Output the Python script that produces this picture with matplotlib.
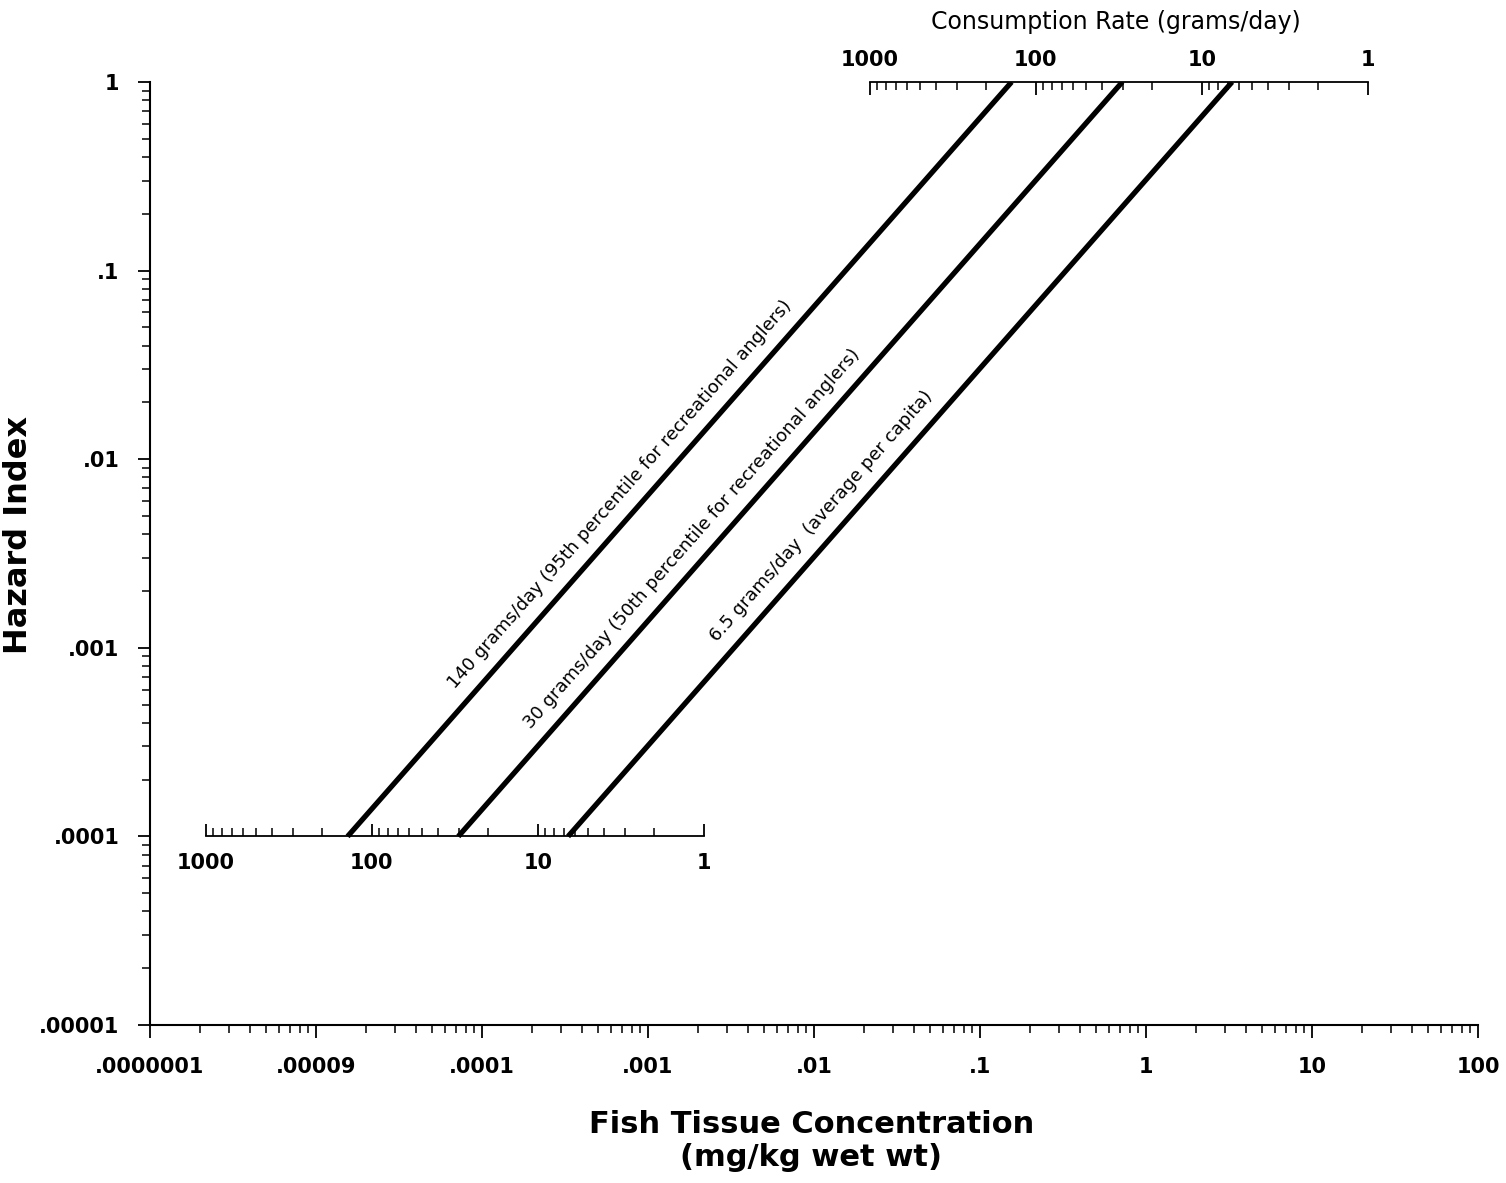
import numpy as np
import matplotlib
matplotlib.use("Agg")
import matplotlib.pyplot as plt
from matplotlib.ticker import NullFormatter, LogLocator

# ---------------- data ----------------
x_tick_values = [1e-6, 1e-5, 1e-4, 1e-3, 1e-2, 1e-1, 1, 10, 100]
x_tick_labels = [".0000001", ".00009", ".0001", ".001", ".01", ".1", "1", "10", "100"]
y_tick_values = [1e-5, 1e-4, 1e-3, 1e-2, 1e-1, 1]
y_tick_labels = [".00001", ".0001", ".001", ".01", ".1", "1"]

rates = [140, 30, 6.5]                       # grams/day
hazard_ends = [1e-4, 1.0]                    # hazard index at line ends
conc_140 = [1.55e-5, 0.155]                  # mg/kg at the two ends
conc_30 = [7.2e-5, 0.72]
conc_6_5 = [3.3e-4, 3.3]
line_labels = [
    "140 grams/day (95th percentile for recreational anglers)",
    "30 grams/day (50th percentile for recreational anglers)",
    "6.5 grams/day  (average per capita)",
]
label_hazard = [5.5e-3, 3.2e-3, 4.2e-3]      # where each label sits on its line

scale_major = [1000, 100, 10, 1]
scale_labels = ["1000", "100", "10", "1"]

# ---------------- figure ----------------
W, H = 1506, 1183
fig = plt.figure(figsize=(W / 100, H / 100), dpi=100)
ax = fig.add_axes([150 / W, (H - 1025) / H, 1328 / W, 943 / H])
ax.set_xscale("log")
ax.set_yscale("log")
ax.set_xlim(x_tick_values[0], x_tick_values[-1])
ax.set_ylim(y_tick_values[0], y_tick_values[-1])

for s in ["top", "right"]:
    ax.spines[s].set_visible(False)
for s in ["left", "bottom"]:
    ax.spines[s].set_linewidth(1.5)

ax.set_xticks(x_tick_values, labels=x_tick_labels)
ax.set_yticks(y_tick_values, labels=y_tick_labels)
ax.xaxis.set_minor_locator(LogLocator(base=10, subs=np.arange(2, 10), numticks=100))
ax.yaxis.set_minor_locator(LogLocator(base=10, subs=np.arange(2, 10), numticks=100))
ax.xaxis.set_minor_formatter(NullFormatter())
ax.yaxis.set_minor_formatter(NullFormatter())
ax.tick_params(axis="both", which="major", direction="out", length=9, width=1.3,
               labelsize=15, colors="black")
ax.tick_params(axis="both", which="minor", direction="out", length=6, width=1.1)
ax.tick_params(axis="x", which="major", pad=14)
ax.tick_params(axis="y", which="major", pad=13)
for lab in ax.get_xticklabels() + ax.get_yticklabels():
    lab.set_fontweight("bold")

ax.set_ylabel("Hazard Index", fontsize=23, fontweight="bold")
ax.yaxis.set_label_coords(-0.087, 0.52)
ax.set_xlabel("Fish Tissue Concentration\n(mg/kg wet wt)", fontsize=22,
              fontweight="bold", linespacing=1.2)
ax.xaxis.set_label_coords(0.498, -0.123)
ax.xaxis.label.set_va("center")

# ---------------- lines ----------------
concs = [conc_140, conc_30, conc_6_5]
for conc in concs:
    ax.plot(conc, hazard_ends, color="black", lw=3.8, solid_capstyle="butt")

fig.canvas.draw()
for conc, lab, hz in zip(concs, line_labels, label_hazard):
    p0 = ax.transData.transform((conc[0], hazard_ends[0]))
    p1 = ax.transData.transform((conc[1], hazard_ends[1]))
    ang = np.degrees(np.arctan2(p1[1] - p0[1], p1[0] - p0[0]))
    # point on the line at hazard hz (slope 1 on log-log)
    xc = conc[0] * hz / hazard_ends[0]
    off = 15.5  # points, perpendicular offset
    dx = -off * np.sin(np.radians(ang))
    dy = off * np.cos(np.radians(ang))
    ax.annotate(lab, xy=(xc, hz), xytext=(dx, dy), textcoords="offset points",
                rotation=ang, rotation_mode="anchor", ha="center", va="center",
                fontsize=13, color="black")

# ---------------- consumption-rate scales ----------------
k_low = conc_140[0] * rates[0]     # concentration * rate at hazard 1e-4
k_high = conc_140[1] * rates[0]    # concentration * rate at hazard 1
minor_rates = [m * d for d in [1, 10, 100] for m in range(2, 10)]

def draw_scale(k, hz, up):
    xs_major = [k / r for r in scale_major]
    xs_minor = [k / r for r in minor_rates]
    ax.plot([min(xs_major), max(xs_major)], [hz, hz], color="black", lw=1.3,
            clip_on=False)
    mk = 2 if up else 3
    ax.plot(xs_major, [hz] * len(xs_major), ls="none", marker=mk, ms=9,
            mew=1.3, color="black", clip_on=False)
    ax.plot(xs_minor, [hz] * len(xs_minor), ls="none", marker=mk, ms=6,
            mew=1.1, color="black", clip_on=False)
    for xv, t in zip(xs_major, scale_labels):
        ax.annotate(t, xy=(xv, hz), xytext=(0, -19 if up else 16),
                    textcoords="offset points", ha="center", va="center",
                    fontsize=15, fontweight="bold", annotation_clip=False)
    return xs_major

draw_scale(k_low, hazard_ends[0], up=True)
xs_top = draw_scale(k_high, hazard_ends[1], up=False)
ax.annotate("Consumption Rate (grams/day)",
            xy=(np.sqrt(xs_top[0] * xs_top[-1]), hazard_ends[1]),
            xytext=(-2, 43), textcoords="offset points", ha="center", va="center",
            fontsize=17, annotation_clip=False)

fig.savefig("out.png", dpi=100, facecolor="white")
